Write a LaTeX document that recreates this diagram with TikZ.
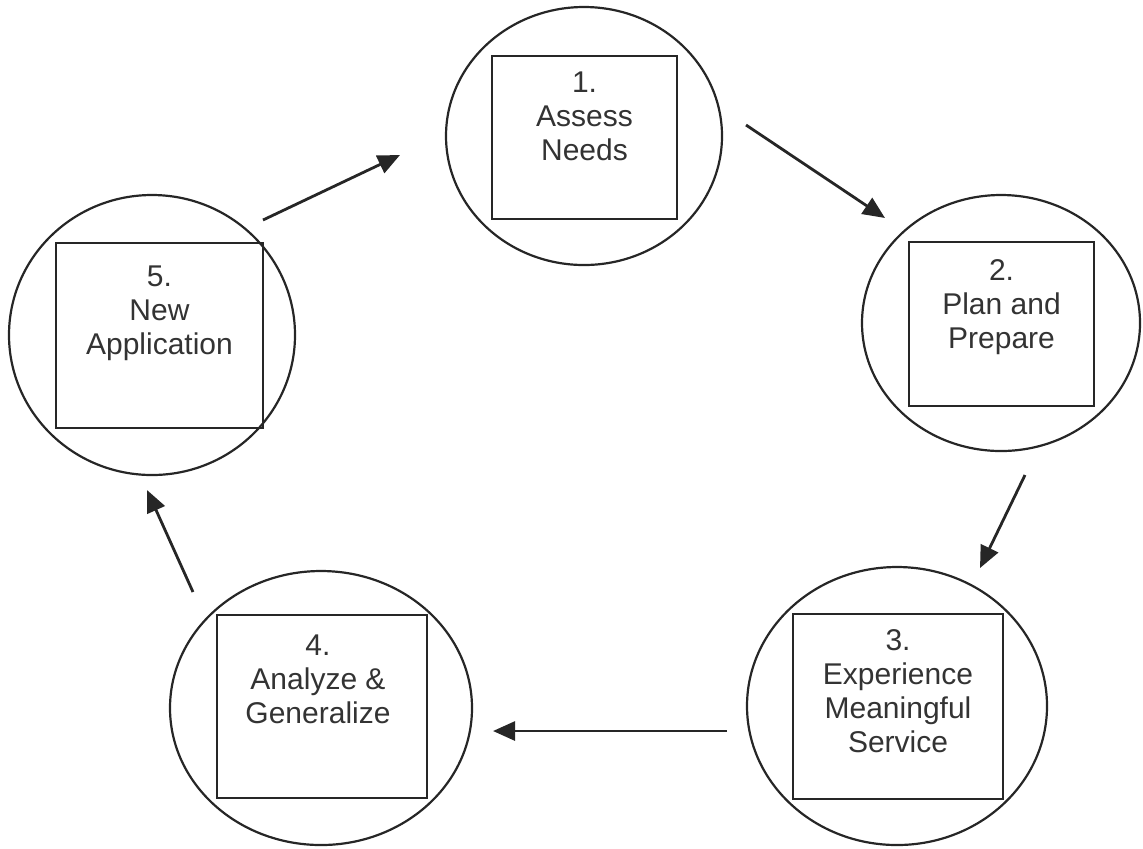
\documentclass[tikz,border=0pt]{standalone}
\usepackage{fontspec}
\setmainfont{Liberation Sans}
\usepackage{tikz}
\usetikzlibrary{arrows.meta,positioning,shapes.geometric}
\usepackage{xcolor}
\definecolor{Ink}{HTML}{262626}
\definecolor{Type}{HTML}{333333}
\tikzset{
  ring/.style={ellipse, draw=Ink, line width=1.1pt, inner sep=0pt},
  stepbox/.style={rectangle, draw=Ink, line width=1.3pt, inner sep=0pt},
  steptext/.style={align=center, inner sep=0pt, text=Type, font=\fontsize{15pt}{17pt}\selectfont},
  arrow/.style={-{Triangle[length=11pt, width=9.5pt]}, line width=1.4pt, draw=Ink}
}

\begin{document}
\begin{tikzpicture}[x=0.5pt, y=-0.5pt]
\useasboundingbox (0,0) rectangle (1143,848);
% rings
\node[ring, minimum width=138pt, minimum height=129pt] (c1) at (584,136) {};
\node[ring, minimum width=139pt, minimum height=128pt] (c2) at (1001,323) {};
\node[ring, minimum width=150pt, minimum height=139pt] (c3) at (897,706) {};
\node[ring, minimum width=151pt, minimum height=137pt] (c4) at (321,708) {};
\node[ring, minimum width=143pt, minimum height=140pt] (c5) at (152,335) {};
% boxes
\node[stepbox, minimum width=92.5pt, minimum height=81.5pt] (s1) at (584.5,137.5) {};
\node[stepbox, minimum width=92.5pt, minimum height=82pt] (s2) at (1001.5,324) {};
\node[stepbox, minimum width=105pt, minimum height=92.5pt] (s3) at (898,706.5) {};
\node[stepbox, minimum width=105pt, minimum height=91.5pt] (s4) at (322,706.5) {};
\node[stepbox, minimum width=103.5pt, minimum height=92.5pt] (s5) at (159.5,335.5) {};
% labels
\node[steptext, below=8.5pt of s1.north] (t1) {1.\\Assess\\Needs};
\node[steptext, below=9pt of s2.north] (t2) {2.\\Plan and\\Prepare};
\node[steptext, below=8pt of s3.north] (t3) {3.\\Experience\\Meaningful\\Service};
\node[steptext, below=10.5pt of s4.north, xshift=-2pt] (t4) {4.\\Analyze \&\\Generalize};
\node[steptext, below=12pt of s5.north] (t5) {5.\\New\\Application};
% arrows
\coordinate (out1) at (746,125);
\coordinate (in2) at (885,218);
\coordinate (out2) at (1025,475);
\coordinate (in3) at (980,568);
\coordinate (out3) at (727,731);
\coordinate (in4) at (493,731);
\coordinate (out4) at (193,592);
\coordinate (in5) at (147,490);
\coordinate (out5) at (263,220);
\coordinate (in1) at (400,155);
\draw[arrow] (out1) -- (in2);
\draw[arrow] (out2) -- (in3);
\draw[arrow] (out3) -- (in4);
\draw[arrow] (out4) -- (in5);
\draw[arrow] (out5) -- (in1);
\end{tikzpicture}
\end{document}
